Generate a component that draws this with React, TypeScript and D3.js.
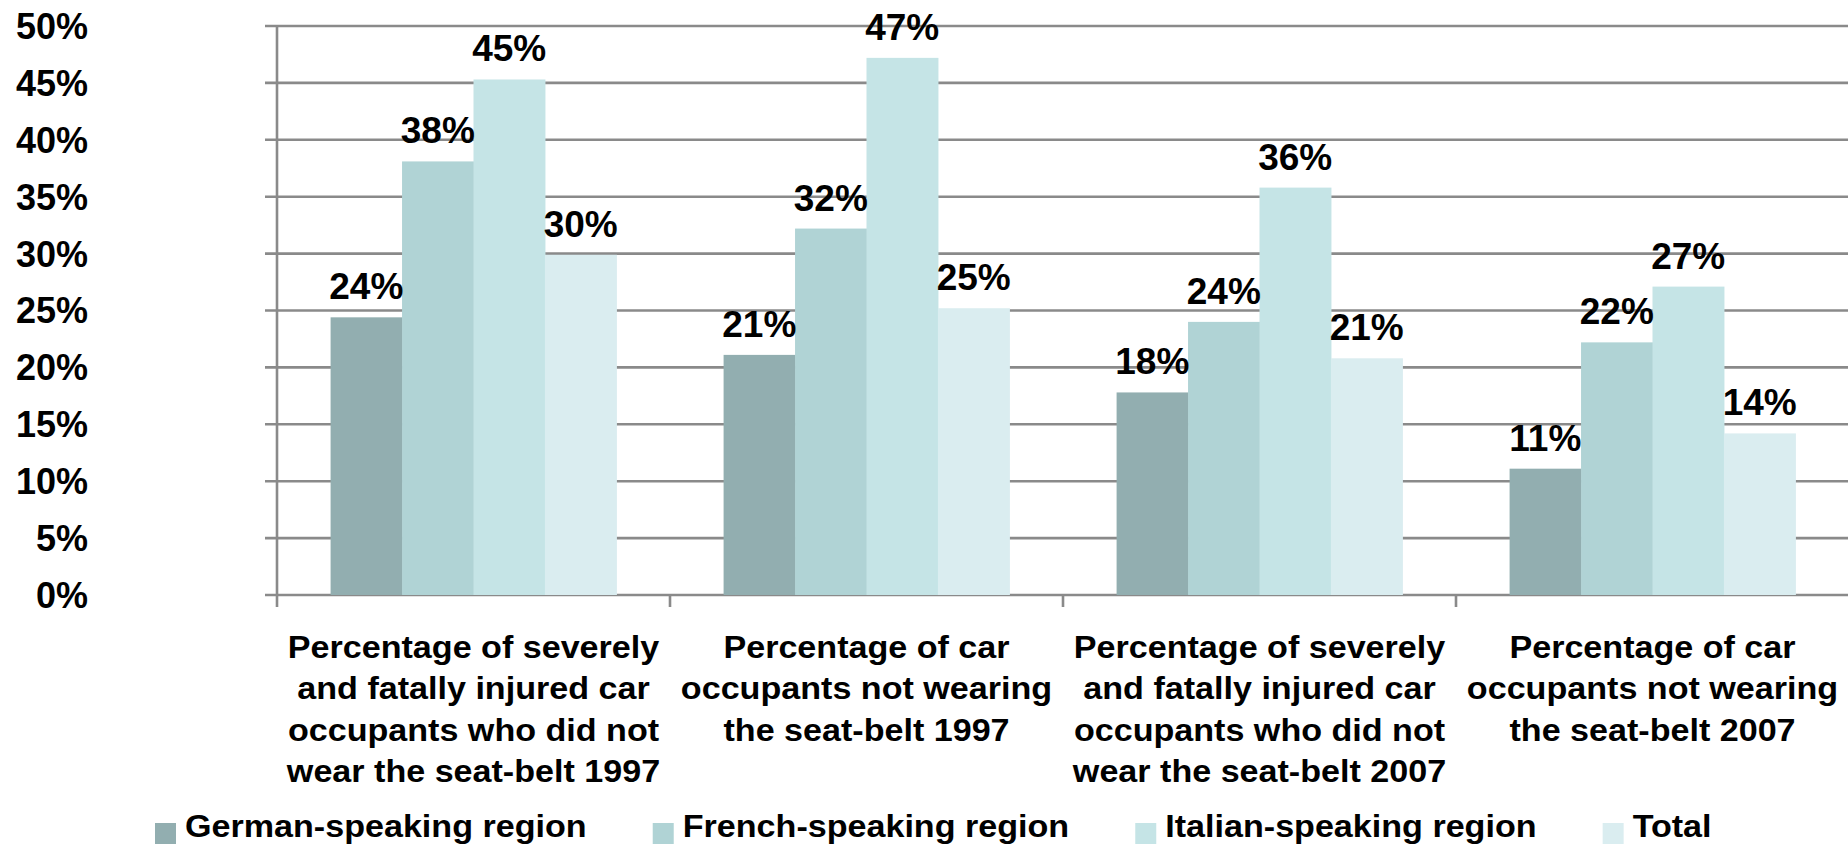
import { useMemo } from "react"
import * as d3 from "d3"

// Category labels, already broken into the lines the chart shows
const CATEGORY_LINES: string[][] = [
  ["Percentage of severely", "and fatally injured car", "occupants who did not", "wear the seat-belt 1997"],
  ["Percentage of car", "occupants not wearing", "the seat-belt 1997"],
  ["Percentage of severely", "and fatally injured car", "occupants who did not", "wear the seat-belt 2007"],
  ["Percentage of car", "occupants not wearing", "the seat-belt 2007"],
]
const CATEGORIES = ["sev1997", "belt1997", "sev2007", "belt2007"]

const SERIES = ["German-speaking region", "French-speaking region", "Italian-speaking region", "Total"]
const GERMAN = [24.4, 21.1, 17.8, 11.1]
const FRENCH = [38.1, 32.2, 24.0, 22.2]
const ITALIAN = [45.3, 47.2, 35.8, 27.1]
const TOTAL = [29.9, 25.2, 20.8, 14.2]
const VALUES = [GERMAN, FRENCH, ITALIAN, TOTAL]
const COLORS = ["#92aeb0", "#b0d3d5", "#c5e4e6", "#daedf0"]

const Y_TICKS = [0, 5, 10, 15, 20, 25, 30, 35, 40, 45, 50]

const W = 1848
const H = 851
const FONT = "'Liberation Sans', Arial, sans-serif"
const GRID = "#8a8a8a"

const measure = (() => {
  const ctx = document.createElement("canvas").getContext("2d")!
  return (text: string, size: number) => {
    ctx.font = `bold ${size}px ${FONT}`
    return ctx.measureText(text).width
  }
})()

export default function App() {
  const left = 277
  const right = 1849
  const y0 = 595
  const y50 = 26

  const x0 = useMemo(
    () => d3.scaleBand<string>().domain(CATEGORIES).range([left, right]).padding(0),
    []
  )
  const x1 = useMemo(
    () =>
      d3.scaleBand<string>().domain(SERIES).range([0, x0.bandwidth()]).paddingInner(0).paddingOuter(0.75),
    [x0]
  )
  const y = useMemo(() => d3.scaleLinear().domain([0, 50]).range([y0, y50]), [])

  // text in the source is a little wider than Liberation Sans bold
  const textSize = 31
  const stretch = 1.1
  const legendItems = useMemo(() => {
    let x = 155
    return SERIES.map((s) => {
      const item = { s, x }
      x += 30 + measure(s, textSize) * stretch + 66
      return item
    })
  }, [])

  return (
    <svg
      width={W}
      height={H}
      style={{ position: "absolute", left: 0, top: 0, background: "#fff" }}
      fontFamily={FONT}
      fontWeight={700}
    >
      {/* horizontal gridlines, with the short tick stubs left of the axis */}
      {Y_TICKS.map((t) => (
        <line key={t} x1={left - 12} x2={W} y1={y(t)} y2={y(t)} stroke={GRID} strokeWidth={2.6} />
      ))}
      <line x1={left} x2={left} y1={y50} y2={y0 + 12} stroke={GRID} strokeWidth={2.6} />
      {CATEGORIES.slice(1).map((c) => (
        <line key={c} x1={x0(c)!} x2={x0(c)!} y1={y0} y2={y0 + 12} stroke={GRID} strokeWidth={2.6} />
      ))}

      {/* y tick labels */}
      {Y_TICKS.map((t) => (
        <text key={t} x={88} y={y(t)} dy="0.36em" textAnchor="end" fontSize={36} fill="#000">
          {t}%
        </text>
      ))}

      {/* bars */}
      {CATEGORIES.map((c, ci) => (
        <g key={c} transform={`translate(${x0(c)},0)`}>
          {SERIES.map((s, si) => {
            const v = VALUES[si][ci]
            return (
              <rect
                key={s}
                x={x1(s)}
                y={y(v)}
                width={x1.bandwidth() + 0.5}
                height={y0 - y(v)}
                fill={COLORS[si]}
              />
            )
          })}
        </g>
      ))}

      {/* value labels */}
      {CATEGORIES.map((c, ci) =>
        SERIES.map((s, si) => {
          const v = VALUES[si][ci]
          return (
            <text
              key={`${c}-${s}`}
              x={x0(c)! + x1(s)! + x1.bandwidth() / 2}
              y={y(v) - 18}
              textAnchor="middle"
              fontSize={37}
              fill="#000"
            >
              {Math.round(v)}%
            </text>
          )
        })
      )}

      {/* category labels */}
      {CATEGORIES.map((c, ci) => {
        const cx = x0(c)! + x0.bandwidth() / 2
        return (
          <g key={c} transform={`translate(${cx},0) scale(${stretch},1)`}>
            {CATEGORY_LINES[ci].map((line, li) => (
              <text key={li} x={0} y={658 + li * 41.3} textAnchor="middle" fontSize={textSize} fill="#000">
                {line}
              </text>
            ))}
          </g>
        )
      })}

      {/* legend */}
      {legendItems.map(({ s, x }, i) => (
        <g key={s} transform={`translate(${x},0)`}>
          <rect x={0} y={823} width={21} height={21} fill={COLORS[i]} />
          <text transform={`translate(30,837) scale(${stretch},1)`} fontSize={textSize} fill="#000">
            {s}
          </text>
        </g>
      ))}
    </svg>
  )
}
